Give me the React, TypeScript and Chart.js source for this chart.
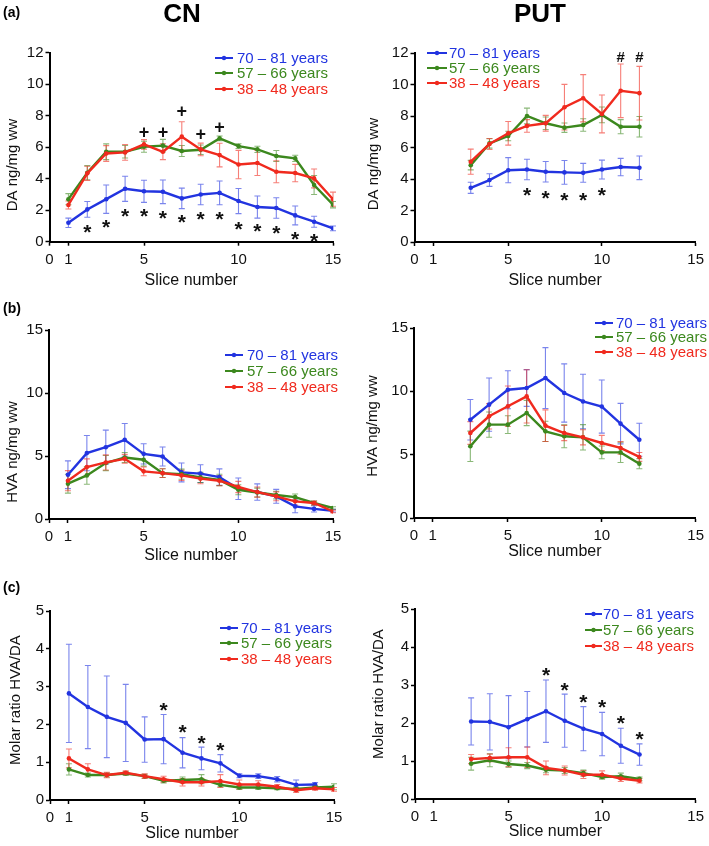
import React, { useEffect, useRef } from 'react';
import { Chart, registerables } from 'chart.js';

Chart.register(...registerables);

// ---------- shared ----------
const FONT = "'Liberation Sans', Arial, Helvetica, sans-serif";
const BLUE = '#2234e0';
const GREEN = '#3c881e';
const RED = '#f02a1e';
const COLORS = [BLUE, GREEN, RED];
const ERR_COLORS = ['rgba(34,52,224,0.6)', 'rgba(60,136,30,0.6)', 'rgba(240,42,30,0.6)'];
const LEGEND_LABELS = ['70 – 81 years', '57 – 66 years', '38 – 48 years'];
const X_TICKS = [0, 1, 5, 10, 15];
const X_TITLE = 'Slice number';

const CN_SLICES = [1, 2, 3, 4, 5, 6, 7, 8, 9, 10, 11, 12, 13, 14, 15];
const PUT_SLICES = [3, 4, 5, 6, 7, 8, 9, 10, 11, 12];

// ---------- (a) DA, CN ----------
const DA_CN_OLD = [1.2, 2.05, 2.7, 3.36, 3.2, 3.17, 2.75, 3.0, 3.1, 2.58, 2.2, 2.14, 1.67, 1.27, 0.85];
const DA_CN_OLD_SEM = [0.3, 0.5, 0.9, 0.8, 0.7, 0.75, 0.65, 0.65, 0.75, 0.8, 0.7, 0.65, 0.6, 0.35, 0.15];
const DA_CN_MID = [2.7, 4.38, 5.71, 5.71, 6.03, 6.1, 5.76, 5.84, 6.56, 6.07, 5.86, 5.44, 5.29, 3.6, 2.35];
const DA_CN_MID_SEM = [0.35, 0.45, 0.5, 0.4, 0.35, 0.4, 0.35, 0.3, 0.15, 0.15, 0.2, 0.35, 0.2, 0.6, 0.2];
const DA_CN_YOUNG = [2.33, 4.34, 5.6, 5.67, 6.18, 5.71, 6.67, 5.86, 5.5, 4.9, 5.0, 4.44, 4.36, 4.02, 2.7];
const DA_CN_YOUNG_SEM = [0.25, 0.45, 0.5, 0.5, 0.3, 0.5, 0.95, 0.4, 0.75, 0.9, 0.8, 0.7, 0.55, 0.6, 0.45];
const DA_CN_STAR_X = [2, 3, 4, 5, 6, 7, 8, 9, 10, 11, 12, 13, 14];
const DA_CN_STAR_Y = [0.9, 1.2, 1.9, 1.9, 1.8, 1.55, 1.7, 1.7, 1.1, 0.95, 0.85, 0.47, 0.32];
const DA_CN_PLUS_X = [5, 6, 7, 8, 9];
const DA_CN_PLUS_Y = [7.0, 7.0, 8.3, 6.84, 7.3];

// ---------- (a) DA, PUT ----------
const DA_PUT_OLD = [3.44, 3.93, 4.56, 4.6, 4.46, 4.42, 4.39, 4.6, 4.76, 4.71];
const DA_PUT_OLD_SEM = [0.35, 0.4, 0.8, 0.65, 0.65, 0.75, 0.6, 0.6, 0.55, 0.75];
const DA_PUT_MID = [4.88, 6.26, 6.73, 8.0, 7.54, 7.26, 7.43, 8.07, 7.32, 7.32];
const DA_PUT_MID_SEM = [0.3, 0.3, 0.3, 0.5, 0.4, 0.3, 0.4, 0.5, 0.45, 0.65];
const DA_PUT_YOUNG = [5.1, 6.22, 6.9, 7.37, 7.54, 8.56, 9.13, 8.13, 9.6, 9.45];
const DA_PUT_YOUNG_SEM = [0.8, 0.35, 0.75, 0.4, 0.5, 1.45, 1.5, 1.2, 1.7, 1.7];
const DA_PUT_STAR_X = [6, 7, 8, 9, 10];
const DA_PUT_STAR_Y = [3.3, 3.1, 2.97, 2.97, 3.25];
const DA_PUT_HASH_X = [11, 12];
const DA_PUT_HASH_Y = [11.8, 11.8];

// ---------- (b) HVA, CN ----------
const HVA_CN_OLD = [3.51, 5.23, 5.7, 6.28, 5.17, 4.96, 3.7, 3.6, 3.33, 2.4, 2.14, 1.8, 1.0, 0.8, 0.66];
const HVA_CN_OLD_SEM = [1.1, 1.4, 1.35, 1.3, 0.8, 0.75, 0.75, 0.7, 0.65, 0.85, 0.65, 0.55, 0.5, 0.25, 0.1];
const HVA_CN_MID = [2.8, 3.46, 4.44, 4.88, 4.7, 3.64, 3.56, 3.3, 3.1, 2.32, 2.1, 1.9, 1.74, 1.27, 0.87];
const HVA_CN_MID_SEM = [0.75, 0.7, 0.6, 0.4, 0.5, 0.35, 0.4, 0.4, 0.45, 0.4, 0.35, 0.3, 0.25, 0.15, 0.1];
const HVA_CN_YOUNG = [3.04, 4.12, 4.49, 4.78, 3.78, 3.64, 3.46, 3.2, 3.04, 2.54, 2.14, 1.8, 1.4, 1.27, 0.6];
const HVA_CN_YOUNG_SEM = [0.8, 0.65, 0.6, 0.35, 0.35, 0.35, 0.4, 0.4, 0.4, 0.45, 0.4, 0.35, 0.3, 0.15, 0.1];

// ---------- (b) HVA, PUT ----------
const HVA_PUT_OLD = [7.76, 8.95, 10.13, 10.26, 11.05, 9.87, 9.2, 8.8, 7.45, 6.18];
const HVA_PUT_OLD_SEM = [1.6, 2.1, 1.5, 1.45, 2.4, 2.3, 2.15, 2.1, 1.6, 1.3];
const HVA_PUT_MID = [5.66, 7.37, 7.37, 8.29, 6.84, 6.45, 6.37, 5.18, 5.18, 4.29];
const HVA_PUT_MID_SEM = [1.2, 1.0, 0.7, 1.0, 0.8, 0.9, 1.0, 0.5, 0.8, 0.4];
const HVA_PUT_YOUNG = [6.71, 8.03, 8.82, 9.6, 7.29, 6.71, 6.37, 5.92, 5.53, 4.82];
const HVA_PUT_YOUNG_SEM = [0.9, 1.0, 1.6, 2.1, 1.25, 0.6, 0.6, 0.6, 0.5, 0.35];

// ---------- (c) HVA/DA, CN ----------
const RATIO_CN_OLD = [2.82, 2.46, 2.2, 2.04, 1.6, 1.61, 1.25, 1.1, 0.97, 0.64, 0.63, 0.55, 0.4, 0.41, null];
const RATIO_CN_OLD_SEM = [1.3, 1.1, 1.08, 1.02, 0.6, 0.65, 0.4, 0.3, 0.23, 0.05, 0.06, 0.07, 0.13, 0.05, null];
const RATIO_CN_MID = [0.81, 0.66, 0.66, 0.7, 0.63, 0.51, 0.53, 0.55, 0.4, 0.33, 0.33, 0.31, 0.29, 0.33, 0.35];
const RATIO_CN_MID_SEM = [0.15, 0.05, 0.05, 0.05, 0.05, 0.06, 0.08, 0.12, 0.05, 0.05, 0.05, 0.04, 0.05, 0.05, 0.08];
const RATIO_CN_YOUNG = [1.1, 0.81, 0.66, 0.72, 0.63, 0.55, 0.47, 0.47, 0.5, 0.41, 0.41, 0.35, 0.26, 0.31, 0.28];
const RATIO_CN_YOUNG_SEM = [0.25, 0.15, 0.07, 0.05, 0.06, 0.08, 0.1, 0.1, 0.17, 0.12, 0.1, 0.06, 0.06, 0.05, 0.05];
const RATIO_CN_STAR_X = [6, 7, 8, 9];
const RATIO_CN_STAR_Y = [2.51, 1.91, 1.63, 1.45];

// ---------- (c) HVA/DA, PUT ----------
const RATIO_PUT_OLD = [2.04, 2.03, 1.89, 2.1, 2.31, 2.06, 1.85, 1.71, 1.4, 1.17];
const RATIO_PUT_OLD_SEM = [0.62, 0.74, 0.83, 0.73, 0.82, 0.7, 0.58, 0.57, 0.46, 0.28];
const RATIO_PUT_MID = [0.93, 1.02, 0.92, 0.88, 0.77, 0.75, 0.68, 0.58, 0.6, 0.53];
const RATIO_PUT_MID_SEM = [0.17, 0.17, 0.08, 0.08, 0.08, 0.08, 0.08, 0.06, 0.08, 0.05];
const RATIO_PUT_YOUNG = [1.05, 1.08, 1.1, 1.1, 0.82, 0.75, 0.64, 0.64, 0.54, 0.48];
const RATIO_PUT_YOUNG_SEM = [0.12, 0.1, 0.25, 0.27, 0.18, 0.12, 0.1, 0.1, 0.08, 0.06];
const RATIO_PUT_STAR_X = [7, 8, 9, 10, 11, 12];
const RATIO_PUT_STAR_Y = [3.38, 2.99, 2.68, 2.54, 2.11, 1.69];

// ---------- panels (layout) ----------
type Panel = any;

const PANELS: Panel[] = [
  {
    key: 'aCN', box: { x: 0, y: 0, w: 354, h: 295 }, yW: 49.5, padR: 21, padT: 52.7, xH: 53.3, xTitlePad: 4.4,
    yMax: 12, yStep: 2, yTitle: 'DA ng/mg ww', yTitlePos: [13, 165],
    xs: CN_SLICES, series: [[DA_CN_OLD, DA_CN_OLD_SEM], [DA_CN_MID, DA_CN_MID_SEM], [DA_CN_YOUNG, DA_CN_YOUNG_SEM]],
    legend: { x0: 215, x1: 233, tx: 237, rows: [58, 73, 89] },
    marks: [{ ch: '*', xs: DA_CN_STAR_X, ys: DA_CN_STAR_Y }, { ch: '+', xs: DA_CN_PLUS_X, ys: DA_CN_PLUS_Y }],
    texts: [
      { t: '(a)', x: 3, y: 13, size: 14, bold: true, align: 'left' },
      { t: 'CN', x: 182, y: 15, size: 26, bold: true, align: 'center' },
    ],
  },
  {
    key: 'aPUT', box: { x: 355, y: 0, w: 354, h: 295 }, yW: 59.5, padR: 11, padT: 53, xH: 53, xTitlePad: 4.7,
    yMax: 12, yStep: 2, yTitle: 'DA ng/mg ww', yTitlePos: [19, 164],
    xs: PUT_SLICES, series: [[DA_PUT_OLD, DA_PUT_OLD_SEM], [DA_PUT_MID, DA_PUT_MID_SEM], [DA_PUT_YOUNG, DA_PUT_YOUNG_SEM]],
    legend: { x0: 72, x1: 92, tx: 94, rows: [53, 68, 83] },
    marks: [{ ch: '*', xs: DA_PUT_STAR_X, ys: DA_PUT_STAR_Y }, { ch: '#', xs: DA_PUT_HASH_X, ys: DA_PUT_HASH_Y }],
    texts: [{ t: 'PUT', x: 185, y: 15, size: 26, bold: true, align: 'center' }],
  },
  {
    key: 'bCN', box: { x: 0, y: 295, w: 354, h: 275 }, yW: 49, padR: 21, padT: 35, xH: 51, xTitlePad: 4.4,
    yMax: 15, yStep: 5, yTitle: 'HVA ng/mg ww', yTitlePos: [13, 157],
    xs: CN_SLICES, series: [[HVA_CN_OLD, HVA_CN_OLD_SEM], [HVA_CN_MID, HVA_CN_MID_SEM], [HVA_CN_YOUNG, HVA_CN_YOUNG_SEM]],
    legend: { x0: 225, x1: 243, tx: 247, rows: [60, 76, 92] },
    marks: [],
    texts: [{ t: '(b)', x: 3, y: 14, size: 14, bold: true, align: 'left' }],
  },
  {
    key: 'bPUT', box: { x: 355, y: 295, w: 354, h: 275 }, yW: 59, padR: 11, padT: 33, xH: 52, xTitlePad: 8.4,
    yMax: 15, yStep: 5, yTitle: 'HVA ng/mg ww', yTitlePos: [18, 131],
    xs: PUT_SLICES, series: [[HVA_PUT_OLD, HVA_PUT_OLD_SEM], [HVA_PUT_MID, HVA_PUT_MID_SEM], [HVA_PUT_YOUNG, HVA_PUT_YOUNG_SEM]],
    legend: { x0: 240, x1: 258, tx: 261, rows: [28, 42, 57] },
    marks: [],
    texts: [],
  },
  {
    key: 'cCN', box: { x: 0, y: 570, w: 354, h: 276 }, yW: 50, padR: 20, padT: 41, xH: 46, xTitlePad: 2.4,
    yMax: 5, yStep: 1, yTitle: 'Molar ratio HVA/DA', yTitlePos: [16, 130],
    xs: CN_SLICES, series: [[RATIO_CN_OLD, RATIO_CN_OLD_SEM], [RATIO_CN_MID, RATIO_CN_MID_SEM], [RATIO_CN_YOUNG, RATIO_CN_YOUNG_SEM]],
    legend: { x0: 220, x1: 238, tx: 241, rows: [58, 73, 89] },
    marks: [{ ch: '*', xs: RATIO_CN_STAR_X, ys: RATIO_CN_STAR_Y }],
    texts: [{ t: '(c)', x: 3, y: 18, size: 14, bold: true, align: 'left' }],
  },
  {
    key: 'cPUT', box: { x: 355, y: 570, w: 354, h: 276 }, yW: 60, padR: 11, padT: 39, xH: 47, xTitlePad: 4.4,
    yMax: 5, yStep: 1, yTitle: 'Molar ratio HVA/DA', yTitlePos: [24, 124],
    xs: PUT_SLICES, series: [[RATIO_PUT_OLD, RATIO_PUT_OLD_SEM], [RATIO_PUT_MID, RATIO_PUT_MID_SEM], [RATIO_PUT_YOUNG, RATIO_PUT_YOUNG_SEM]],
    legend: { x0: 230, x1: 247, tx: 248, rows: [44, 60, 76] },
    marks: [{ ch: '*', xs: RATIO_PUT_STAR_X, ys: RATIO_PUT_STAR_Y }],
    texts: [],
  },
];

const MARK_FONT: Record<string, number> = { '*': 21, '+': 18, '#': 15 };
const MARK_RISE: Record<string, number> = { '*': 0.55, '+': 0.34, '#': 0.36 };

// ---------- plugins ----------
const errorBarPlugin = {
  id: 'errorBars',
  beforeDatasetsDraw(chart: any) {
    const ctx = chart.ctx;
    const ys = chart.scales.y;
    chart.data.datasets.forEach((ds: any, di: number) => {
      const meta = chart.getDatasetMeta(di);
      ctx.save();
      ctx.strokeStyle = ds.errColor;
      ctx.lineWidth = 1.1;
      meta.data.forEach((pt: any, i: number) => {
        const d = ds.data[i];
        if (d.e == null) return;
        const x = pt.x;
        const yTop = ys.getPixelForValue(d.y + d.e);
        const yBot = ys.getPixelForValue(Math.max(d.y - d.e, 0));
        ctx.beginPath();
        ctx.moveTo(x, yTop);
        ctx.lineTo(x, yBot);
        ctx.moveTo(x - 3, yTop);
        ctx.lineTo(x + 3, yTop);
        ctx.moveTo(x - 3, yBot);
        ctx.lineTo(x + 3, yBot);
        ctx.stroke();
      });
      ctx.restore();
    });
  },
};

const decorPlugin = {
  id: 'decor',
  afterDraw(chart: any) {
    const ctx = chart.ctx;
    const p: Panel = chart.options.plugins.decor.panel;
    const xs = chart.scales.x;
    const ys = chart.scales.y;
    ctx.save();
    // annotation marks
    p.marks.forEach((m: any) => {
      const size = MARK_FONT[m.ch];
      ctx.font = `bold ${size}px ${FONT}`;
      ctx.fillStyle = '#111';
      ctx.textAlign = 'center';
      ctx.textBaseline = 'alphabetic';
      m.xs.forEach((xv: number, i: number) => {
        const px = xs.getPixelForValue(xv);
        const py = ys.getPixelForValue(m.ys[i]) + MARK_RISE[m.ch] * size;
        ctx.fillText(m.ch, px, py);
      });
    });
    // legend
    const L = p.legend;
    LEGEND_LABELS.forEach((label, i) => {
      const y = L.rows[i];
      ctx.strokeStyle = COLORS[i];
      ctx.lineWidth = 2;
      ctx.beginPath();
      ctx.moveTo(L.x0, y);
      ctx.lineTo(L.x1, y);
      ctx.stroke();
      ctx.fillStyle = COLORS[i];
      ctx.beginPath();
      ctx.arc((L.x0 + L.x1) / 2, y, 2.2, 0, Math.PI * 2);
      ctx.fill();
      ctx.font = `15px ${FONT}`;
      ctx.textAlign = 'left';
      ctx.textBaseline = 'middle';
      ctx.fillText(label, L.tx, y + 1);
    });
    // y-axis title
    ctx.fillStyle = '#111';
    ctx.font = `15px ${FONT}`;
    ctx.textAlign = 'center';
    ctx.textBaseline = 'middle';
    ctx.translate(p.yTitlePos[0], p.yTitlePos[1]);
    ctx.rotate(-Math.PI / 2);
    ctx.fillText(p.yTitle, 0, 0);
    ctx.setTransform(1, 0, 0, 1, 0, 0);
    // panel titles
    p.texts.forEach((t: any) => {
      ctx.font = `${t.bold ? 'bold ' : ''}${t.size}px ${FONT}`;
      ctx.fillStyle = '#000';
      ctx.textAlign = t.align;
      ctx.textBaseline = 'middle';
      ctx.fillText(t.t, t.x, t.y);
    });
    ctx.restore();
  },
};

function buildConfig(p: Panel): any {
  const datasets = p.series.map(([vals, sems]: any, si: number) => ({
    data: p.xs
      .map((x: number, i: number) => ({ x, y: vals[i], e: sems[i] }))
      .filter((d: any) => d.y != null),
    borderColor: COLORS[si],
    backgroundColor: COLORS[si],
    pointBackgroundColor: COLORS[si],
    pointBorderWidth: 0,
    pointRadius: 2.3,
    pointHoverRadius: 2.3,
    borderWidth: 2.4,
    tension: 0,
    fill: false,
    order: 2 - si,
    errColor: ERR_COLORS[si],
  }));
  const tickFont = { family: FONT, size: 15 };
  return {
    type: 'line',
    data: { datasets },
    plugins: [errorBarPlugin, decorPlugin],
    options: {
      animation: false,
      responsive: false,
      devicePixelRatio: 1,
      events: [],
      layout: { padding: { left: 0, right: p.padR, top: p.padT, bottom: 0 } },
      plugins: {
        legend: { display: false },
        tooltip: { enabled: false },
        decor: { panel: p },
      },
      scales: {
        x: {
          type: 'linear',
          min: 0,
          max: 15,
          afterBuildTicks: (axis: any) => {
            axis.ticks = X_TICKS.map((v) => ({ value: v }));
          },
          afterFit: (axis: any) => {
            axis.height = p.xH;
          },
          grid: { drawOnChartArea: false, drawTicks: true, tickLength: 4, tickColor: '#000', tickWidth: 1.5 },
          border: { display: true, color: '#000', width: 2 },
          ticks: { color: '#111', font: tickFont, padding: 5, autoSkip: false, maxRotation: 0 },
          title: {
            display: true,
            text: X_TITLE,
            color: '#111',
            font: { family: FONT, size: 16 },
            padding: { top: 0, bottom: p.xTitlePad },
          },
        },
        y: {
          type: 'linear',
          min: 0,
          max: p.yMax,
          afterFit: (axis: any) => {
            axis.width = p.yW;
          },
          grid: { drawOnChartArea: false, drawTicks: true, tickLength: 4, tickColor: '#000', tickWidth: 1.5 },
          border: { display: true, color: '#000', width: 2 },
          ticks: { color: '#111', font: tickFont, padding: 2, stepSize: p.yStep },
        },
      },
    },
  };
}

function ChartPanel({ panel }: { panel: Panel }) {
  const ref = useRef<HTMLCanvasElement | null>(null);
  useEffect(() => {
    if (!ref.current) return;
    const chart = new Chart(ref.current, buildConfig(panel));
    return () => chart.destroy();
  }, [panel]);
  const b = panel.box;
  return (
    <canvas
      ref={ref}
      width={b.w}
      height={b.h}
      style={{ position: 'absolute', left: b.x, top: b.y, width: b.w, height: b.h }}
    />
  );
}

export default function App() {
  return (
    <div style={{ position: 'absolute', left: 0, top: 0, width: 709, height: 846, background: '#fff', overflow: 'hidden' }}>
      {PANELS.map((p) => (
        <ChartPanel key={p.key} panel={p} />
      ))}
    </div>
  );
}
